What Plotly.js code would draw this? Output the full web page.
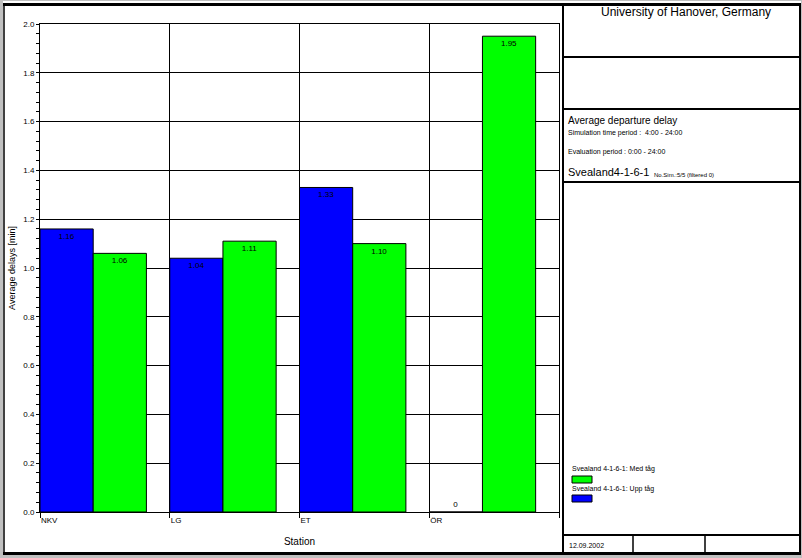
<!DOCTYPE html>
<html>
<head>
<meta charset="utf-8">
<script src="https://cdn.plot.ly/plotly-3.0.1.min.js"></script>
<style>html,body{margin:0;padding:0;background:#c0c0c0;}#chart{width:802px;height:558px;}</style>
</head>
<body>
<div id="chart"></div>
<script>
// ---- data ----
const stations = ["NKV", "LG", "ET", "ÖR"];
const uppValues = [1.16, 1.04, 1.33, 0];
const medValues = [1.06, 1.11, 1.10, 1.95];
const uppName = "Svealand 4-1-6-1: Upp tåg";
const medName = "Svealand 4-1-6-1: Med tåg";
const yTickVals = [0, 0.2, 0.4, 0.6, 0.8, 1.0, 1.2, 1.4, 1.6, 1.8, 2.0];
const headerText = "University of Hanover, Germany";
const infoTitle = "Average departure delay";
const simPeriod = "Simulation time period :  4:00 - 24:00";
const evalPeriod = "Evaluation period : 0:00 - 24:00";
const scenario = "Svealand4-1-6-1";
const simInfo = "No.Sim.:5/5 (filtered 0)";
const dateText = "12.09.2002";

// ---- layout helpers (pixel -> paper) ----
const L = 40, R = 559, T = 24, B = 512;
const W = R - L, H = B - T;
const px = x => (x - L) / W;
const py = y => (B - y) / H;
const FONT = "Liberation Sans, Arial, sans-serif";

const idx = stations.map((s, i) => i);
const fmt = v => v === 0 ? "0" : v.toFixed(2);

const traces = [
  {
    type: "bar", name: uppName, x: idx, y: uppValues,
    offset: 0, width: 0.41,
    marker: {color: "#0000ff", line: {color: "#000", width: 1}},
    text: uppValues.map(fmt),
    textposition: uppValues.map(v => v === 0 ? "outside" : "inside"),
    insidetextanchor: "end",
    textfont: {family: FONT, size: 8, color: "#000"},
    constraintext: "none", cliponaxis: false,
    showlegend: false, hoverinfo: "skip"
  },
  {
    type: "bar", name: medName, x: idx, y: medValues,
    offset: 0.41, width: 0.41,
    marker: {color: "#00ff00", line: {color: "#000", width: 1}},
    text: medValues.map(fmt),
    textposition: medValues.map(v => v === 0 ? "outside" : "inside"),
    insidetextanchor: "end",
    textfont: {family: FONT, size: 8, color: "#000"},
    constraintext: "none", cliponaxis: false,
    showlegend: false, hoverinfo: "skip"
  }
];

function line(x0, y0, x1, y1, w) {
  return {type: "line", xref: "paper", yref: "paper", x0: px(x0), y0: py(y0), x1: px(x1), y1: py(y1),
          line: {color: "#000", width: w}, layer: "above"};
}
function rect(x0, y0, x1, y1, fill, lw, layer) {
  return {type: "rect", xref: "paper", yref: "paper", x0: px(x0), y0: py(y0), x1: px(x1), y1: py(y1),
          fillcolor: fill, line: {color: "#000", width: lw}, layer: layer || "above"};
}
function txt(text, x, y, size, anchor) {
  return {text: text, xref: "paper", yref: "paper", x: px(x), y: py(y), showarrow: false,
          xanchor: anchor || "left", yanchor: "middle", font: {family: FONT, size: size, color: "#000"}};
}

const shapes = [
  {type: "rect", xref: "paper", yref: "paper", x0: px(3), y0: py(1), x1: px(801), y1: py(554),
   fillcolor: "#fff", line: {width: 0}, layer: "below"},
  // outer frame
  line(3, 4.5, 801, 4.5, 3),
  line(3, 553.5, 801, 553.5, 3),
  line(4, 3, 4, 555, 1.5),
  line(800, 3, 800, 555, 2),
  // right panel
  line(563, 4, 563, 553, 2),
  line(563, 57, 800, 57, 2),
  line(563, 109, 800, 109, 2),
  line(563, 182, 800, 182, 2),
  line(563, 535, 800, 535, 2),
  line(633, 535, 633, 553, 1.5),
  line(705, 535, 705, 553, 1.5),
  // legend swatches
  rect(572, 476, 592, 483, "#00ff00", 1),
  rect(572, 495, 592, 502, "#0000ff", 1)
];

const annotations = [
  txt(headerText, 686, 12, 12, "center"),
  txt(infoTitle, 566, 120, 10),
  txt(simPeriod, 566, 133, 7),
  txt(evalPeriod, 566, 152, 7),
  txt(scenario, 566, 172, 11),
  txt(simInfo, 652, 175, 6),
  txt(medName, 570, 469, 7),
  txt(uppName, 570, 489, 7),
  txt(dateText, 567, 545, 7)
];

const layout = {
  width: 802, height: 558,
  margin: {l: L, r: 802 - R, t: T, b: 558 - B, pad: 0},
  paper_bgcolor: "#c0c0c0", plot_bgcolor: "#fff",
  font: {family: FONT, size: 8, color: "#000"},
  barmode: "overlay",
  showlegend: false,
  xaxis: {
    range: [0, stations.length],
    tickmode: "array",
    tickvals: idx.concat([stations.length]),
    ticktext: stations.concat([""]),
    ticks: "outside", ticklen: 5, tickcolor: "#000", tickwidth: 1,
    ticklabelposition: "outside right",
    showgrid: true, gridcolor: "#000", gridwidth: 1,
    showline: true, linecolor: "#000", linewidth: 1, mirror: true,
    zeroline: false,
    tickfont: {family: FONT, size: 8},
    title: {text: "Station", font: {family: FONT, size: 10}, standoff: 14}
  },
  yaxis: {
    range: [0, 2.0],
    tickmode: "array", tickvals: yTickVals,
    tickformat: ".1f",
    ticks: "outside", ticklen: 3, tickcolor: "#000", tickwidth: 1,
    minor: {dtick: 0.04, ticks: "outside", ticklen: 3, tickcolor: "#000", showgrid: false},
    showgrid: true, gridcolor: "#000", gridwidth: 1,
    showline: true, linecolor: "#000", linewidth: 1, mirror: true,
    zeroline: false,
    tickfont: {family: FONT, size: 8},
    title: {text: "Average delays [min]", font: {family: FONT, size: 9}, standoff: 6}
  },
  shapes: shapes,
  annotations: annotations
};

Plotly.newPlot("chart", traces, layout, {displayModeBar: false, staticPlot: true});
</script>
</body>
</html>
